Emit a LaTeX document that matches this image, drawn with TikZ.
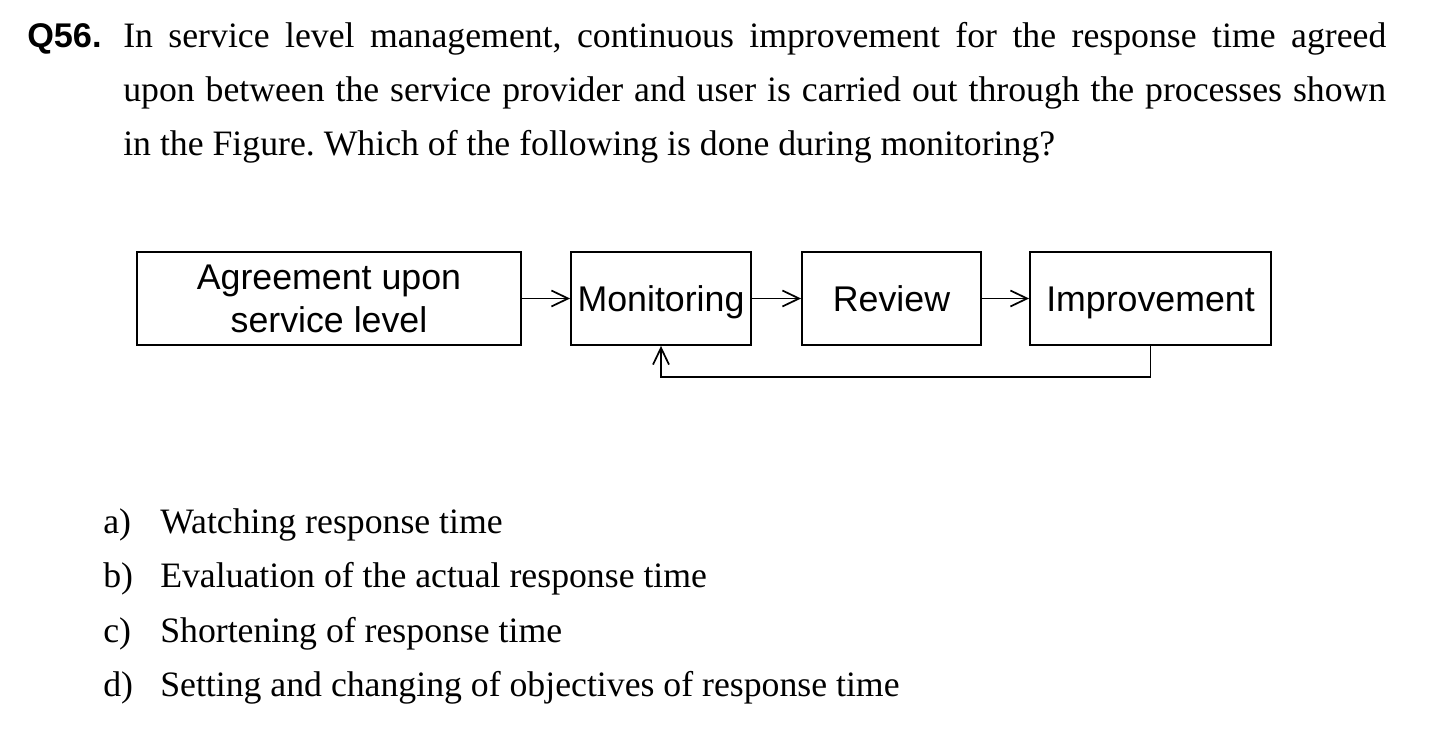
\documentclass[tikz,border=0pt]{standalone}
\usepackage{fontspec}
\setmainfont{Liberation Serif}
\setsansfont{Liberation Sans}
\usetikzlibrary{arrows.meta}
\frenchspacing
\begin{document}
\begin{tikzpicture}[x=0.75pt,y=-0.75pt,
  qtext/.style={anchor=base west,inner sep=0,font=\fontsize{26.8pt}{32pt}\selectfont},
  box/.style={draw,line width=1.4pt,inner sep=0,minimum height=69.75pt,align=center,
    text height=19.2pt,text depth=0pt,
    font=\sffamily\fontsize{26.8pt}{32.25pt}\selectfont},
  arr/.style={line width=1.4pt,-{Straight Barb[length=12.5pt,width=12pt,line width=1.3pt]}}]
\useasboundingbox (0,0) rectangle (1450,734);
% question
\node[anchor=base west,inner sep=0,font=\sffamily\bfseries\fontsize{25.7pt}{30pt}\selectfont] (qnum) at (27,48) {Q56.};
\node[qtext] (q1) at (123,48) {\makebox[947.25pt][s]{In service level management, continuous improvement for the response time agreed}};
\node[qtext] (q2) at (123,102) {\makebox[947.25pt][s]{upon between the service provider and user is carried out through the processes shown}};
\node[qtext] (q3) at (123,156) {in the Figure. Which of the following is done during monitoring?};
% diagram
\node[box,minimum width=288pt,text height=51.45pt] (agr) at (329,298.5) {Agreement upon\\service level};
\node[box,minimum width=135pt] (mon) at (661,298.5) {Monitoring};
\node[box,minimum width=134.25pt] (rev) at (891.5,298.5) {Review};
\node[box,minimum width=180.75pt] (imp) at (1150.5,298.5) {Improvement};
\draw[arr] (agr.east) -- (mon.west);
\draw[arr] (mon.east) -- (rev.west);
\draw[arr] (rev.east) -- (imp.west);
\coordinate (fb) at (1150.5,377);
\draw[arr] (imp.south) -- (fb) -| (mon.south);
% options
\node[qtext] (la) at (103,533) {a)};
\node[qtext] (ta) at (160,533) {Watching response time};
\node[qtext] (lb) at (103,587.5) {b)};
\node[qtext] (tb) at (160,587.5) {Evaluation of the actual response time};
\node[qtext] (lc) at (103,642) {c)};
\node[qtext] (tc) at (160,642) {Shortening of response time};
\node[qtext] (ld) at (103,696) {d)};
\node[qtext] (td) at (160,696) {Setting and changing of objectives of response time};
\end{tikzpicture}
\end{document}
